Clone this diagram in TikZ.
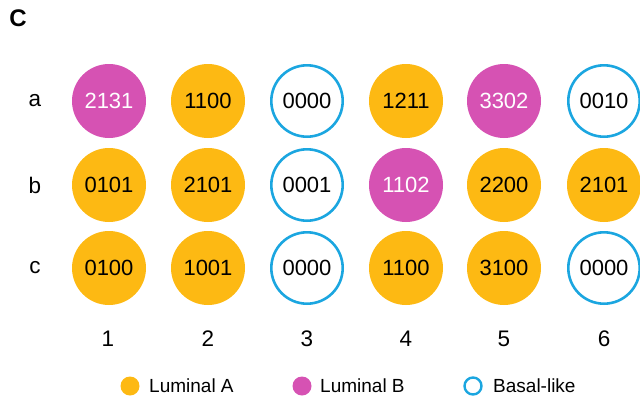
\documentclass[tikz,border=0pt]{standalone}
\usepackage{fontspec}
\setmainfont{Liberation Sans}
\usetikzlibrary{arrows,arrows.meta}
\definecolor{lumA}{HTML}{FDB913}
\definecolor{lumB}{HTML}{D652B3}
\definecolor{basal}{HTML}{1BA6E0}
\begin{document}
\begin{tikzpicture}[
x=1pt,y=-1pt,
cell/.style={circle,minimum size=74pt,inner sep=0pt,font=\fontsize{22}{24}\selectfont},
luma/.style={cell,fill=lumA},
lumb/.style={cell,fill=lumB,text=white},
basal/.style={cell,draw=basal,line width=2.6pt,minimum size=71.4pt,fill=white},
lab/.style={font=\fontsize{22.5}{24}\selectfont},
key/.style={circle,inner sep=0pt,minimum size=19pt},
keytext/.style={font=\fontsize{19}{20}\selectfont,anchor=west,inner sep=0pt} ]

\useasboundingbox (0,0) rectangle (640,400);

\node[font=\bfseries\fontsize{24}{26}\selectfont](panel) at (18,18) {C};

\node[lab](rowa) at (35,101) {a};

\node[lab](rowb) at (35,185) {b};

\node[lab](rowc) at (35,268) {c};

\node[lumb](a1) at (109,101) {2131};

\node[luma](a2) at (208,101) {1100};

\node[basal](a3) at (307,101) {0000};

\node[luma](a4) at (406,101) {1211};

\node[lumb](a5) at (504,101) {3302};

\node[basal](a6) at (604,101) {0010};

\node[luma](b1) at (109,185) {0101};

\node[luma](b2) at (208,185) {2101};

\node[basal](b3) at (307,185) {0001};

\node[lumb](b4) at (406,185) {1102};

\node[luma](b5) at (504,185) {2200};

\node[luma](b6) at (604,185) {2101};

\node[luma](c1) at (109,268) {0100};

\node[luma](c2) at (208,268) {1001};

\node[basal](c3) at (307,268) {0000};

\node[luma](c4) at (406,268) {1100};

\node[luma](c5) at (504,268) {3100};

\node[basal](c6) at (604,268) {0000};

\node[lab](col1) at (108,339) {1};

\node[lab](col2) at (208,339) {2};

\node[lab](col3) at (307,339) {3};

\node[lab](col4) at (406,339) {4};

\node[lab](col5) at (504,339) {5};

\node[lab](col6) at (604,339) {6};

\node[key,fill=lumA](keya) at (130,386) {};
\node[keytext](texta) at (149,386) {Luminal A};

\node[key,fill=lumB](keyb) at (302,386) {};
\node[keytext](textb) at (320,386) {Luminal B};

\node[key,draw=basal,line width=2.4pt,minimum size=17pt](keyc) at (473,386) {};
\node[keytext](textc) at (493,386) {Basal-like};

\end{tikzpicture}
\end{document}
